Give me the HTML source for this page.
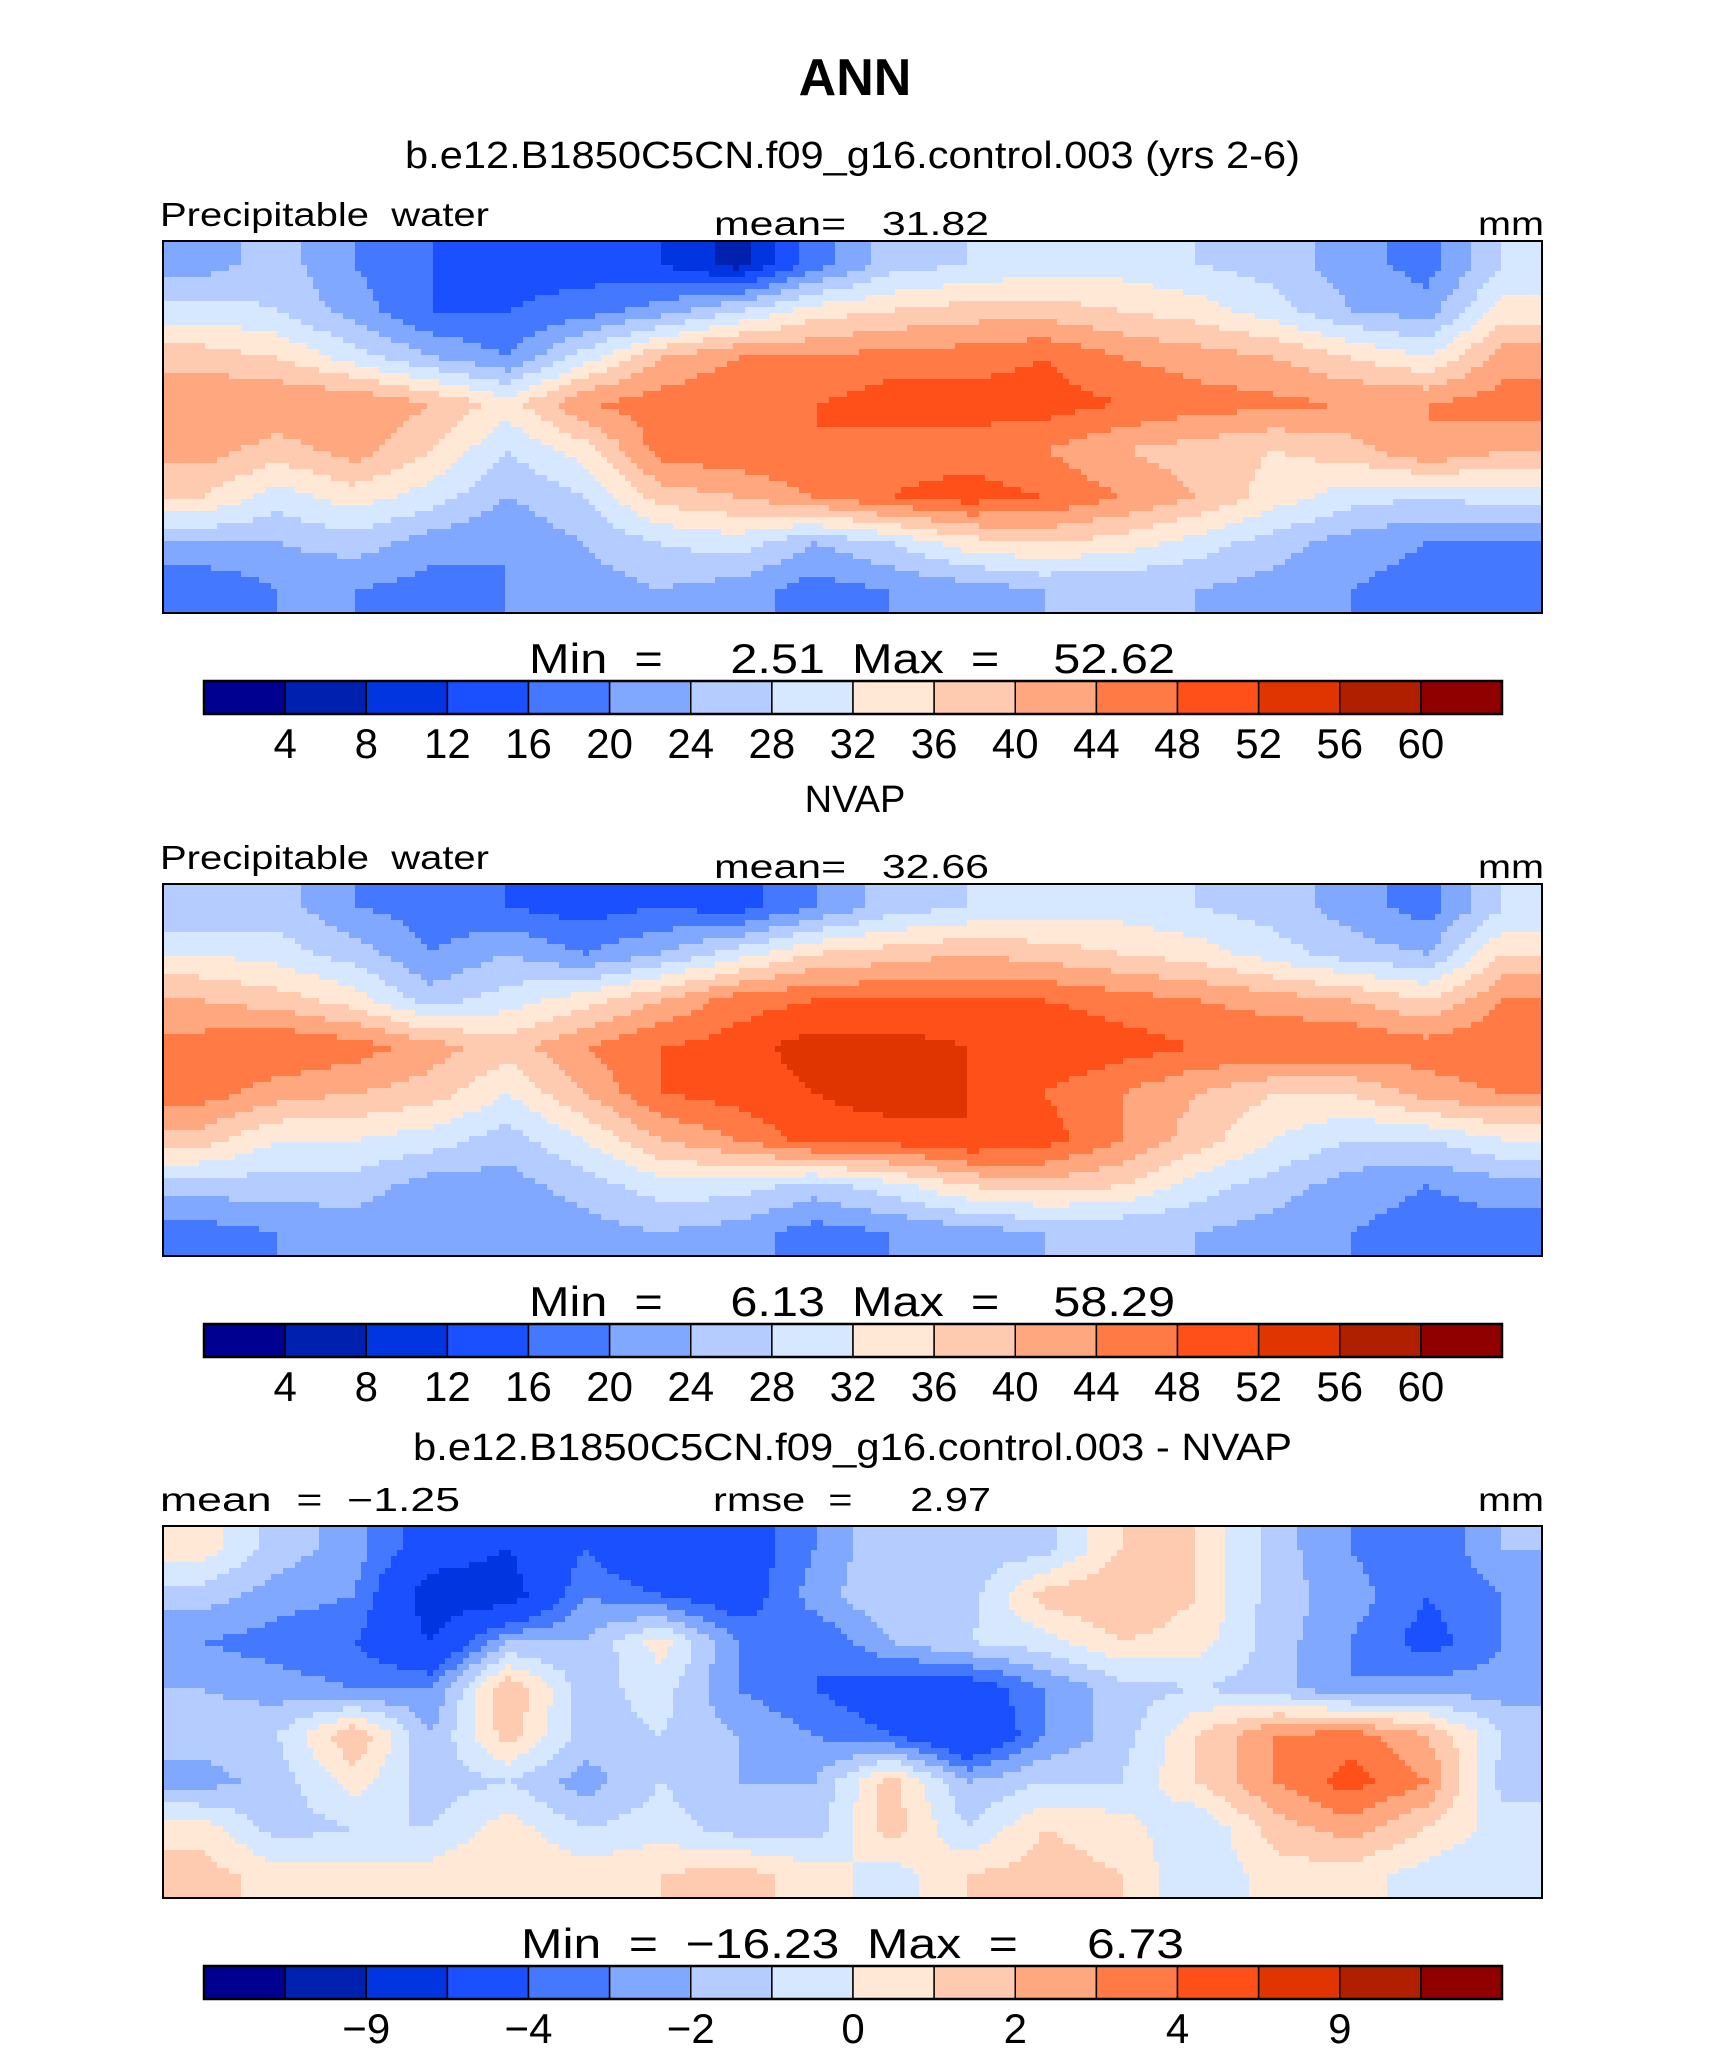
<!DOCTYPE html>
<html><head><meta charset="utf-8"><style>
html,body{margin:0;padding:0;background:#fff;}
svg{display:block;font-family:"Liberation Sans",sans-serif;}
text{white-space:pre;}
</style></head><body>
<svg id="fig" width="1710" height="2067" viewBox="0 0 1710 2067">
<text x="855" y="95" text-anchor="middle" font-size="52" font-weight="bold">ANN</text>
<text x="405" y="168" font-size="38" textLength="895" lengthAdjust="spacingAndGlyphs">b.e12.B1850C5CN.f09_g16.control.003 (yrs 2-6)</text>
<text x="855" y="812" text-anchor="middle" font-size="38">NVAP</text>
<text x="413" y="1460" font-size="38" textLength="879" lengthAdjust="spacingAndGlyphs">b.e12.B1850C5CN.f09_g16.control.003 - NVAP</text>
</svg>
<script>
const colors=["#000090","#0020b0","#0035e0","#1a50ff","#4478ff","#80a8ff","#b4ccff","#d6e8ff","#ffe8d6","#ffcbb0","#ffa880","#ff7a44","#ff501a","#e03500","#b02000","#900000"];
const bounds12=[4,8,12,16,20,24,28,32,36,40,44,48,52,56,60];
const bounds3=[-12,-9,-6,-4,-3,-2,-1,0,1,2,3,4,6,9,12];
const ticks12=["4","8","12","16","20","24","28","32","36","40","44","48","52","56","60"];
const ticks3=["","\u22129","","\u22124","","\u22122","","0","","2","","4","","9",""];
const model=[
[22,26,20,16,14,14,12,6,18,26,28,30,30,28,26,22,18,28],
[30,28,22,16,16,18,22,28,34,36,38,38,36,34,30,24,22,34],
[38,36,30,24,20,30,40,44,44,46,46,48,44,42,40,36,32,42],
[44,44,44,40,34,44,46,48,48,50,50,50,48,46,45,44,44,46],
[42,38,42,36,28,34,46,47,48,46,46,44,40,38,36,38,44,40],
[36,30,34,30,24,28,38,40,44,48,50,48,44,40,34,30,28,30],
[24,24,26,22,20,24,28,30,24,28,34,36,34,30,26,22,20,20],
[16,20,20,18,20,22,24,22,18,20,22,24,24,24,22,20,18,16]];
const nvap=[
[24,26,20,18,16,14,16,14,20,26,28,30,30,28,26,22,18,28],
[32,30,26,20,24,20,24,30,36,38,40,38,36,34,30,26,24,36],
[40,38,34,26,30,34,40,46,48,48,48,48,46,44,42,40,36,44],
[46,48,46,42,38,44,48,50,54,54,52,52,50,48,48,48,46,48],
[46,42,40,38,32,40,48,50,52,54,52,48,44,40,36,36,42,44],
[38,32,32,30,26,32,40,44,50,50,52,50,44,38,32,28,28,32],
[26,26,26,22,22,26,30,30,26,30,36,38,36,30,26,22,20,22],
[18,20,22,20,20,22,24,22,18,20,22,24,24,24,22,20,18,18]];
const diff=[
[0.5,-1.5,-2.5,-5,-6,-4,-6,-5,-3,-1,-1.5,-1.5,1,1,-1.5,-3,-4,-2],
[-1.5,-2.5,-3,-7,-7,-3,-4,-5,-2.5,-1,-1.5,1.5,2,1,-1.5,-2.5,-4,-3],
[-3,-3.5,-4,-6,-2,-2,0.5,-3,-4,-2,-1,-0.5,1,0.5,-1.5,-3,-4.5,-3],
[-2,-2.5,-3,-3,2,-1.5,-0.5,-3,-4,-5,-5,-3,-1.5,-1,-1.5,-3,-2.5,-2.5],
[-1.5,-1,2,-2,1.5,-1.5,-1,-2,-3,-4,-6,-3,-1.5,1,3,3.5,2,-1],
[-2.5,-1.5,0.5,-1.5,-1,-2.5,-1,-2,-2,1.5,-2,-1,-1,1,3,4.5,3,-1.5],
[0.5,-1.5,-1,-1,0.5,-1,-0.5,-1.5,-1.5,1.5,-1,1,0.5,-1,1.5,2.5,1,-0.5],
[1.5,0.5,0.5,0.5,1,0.5,1,1.5,0.5,-0.5,1,1.5,1,-1,0.5,0.5,-0.5,-1]];
const NS="http://www.w3.org/2000/svg";
const svg=document.getElementById('fig');
function mk(tag,attrs,parent){const e=document.createElementNS(NS,tag);for(const k in attrs)e.setAttribute(k,attrs[k]);(parent||svg).appendChild(e);return e;}
function lvl(v,b){let i=0;while(i<b.length&&v>=b[i])i++;return i;}
function sample(g,fx,fy){const R=g.length,C=g[0].length;let x=fx*C-0.5,y=fy*R-0.5;x=Math.max(0,Math.min(C-1,x));y=Math.max(0,Math.min(R-1,y));const x0=Math.floor(x),y0=Math.floor(y),x1=Math.min(C-1,x0+1),y1=Math.min(R-1,y0+1);const tx=x-x0,ty=y-y0;return (g[y0][x0]*(1-tx)+g[y0][x1]*tx)*(1-ty)+(g[y1][x0]*(1-tx)+g[y1][x1]*tx)*ty;}
const MX=163,MW=1379,MH=372;
function panel(off,grid,bounds,ticks,labels,minmax,idx){
  const g=mk('g',{});
  
  
  const top=241+off, st=6;
  const mapg=mk('g',{},g);
  
  
  for(let y=0;y<MH;y+=st){const h=Math.min(st,MH-y);let runStart=0,runL=-1;
    for(let x=0;;x+=st){const end=x>=MW;let L=-2;if(!end){L=lvl(sample(grid,(x+st/2)/MW,(y+h/2)/MH),bounds);}
      if(L!==runL){if(runL>=0){const r=mk('rect',{x:MX+runStart,y:top+y,width:Math.min(x,MW)-runStart+0.6,height:h+0.6,fill:colors[runL]},mapg);}runStart=x;runL=L;}
      if(end)break;}}
  const fr=mk('rect',{x:MX,y:top,width:MW,height:MH,fill:'none',stroke:'#000','stroke-width':2},g);
  
  labels.forEach(l=>{const t=mk('text',{x:l[0],y:l[1]+off,'font-size':33,textLength:l[3],lengthAdjust:'spacingAndGlyphs'},g);t.textContent=l[2];});
  const mm=mk('text',{x:minmax[0],y:673+off,'font-size':42,textLength:minmax[1],lengthAdjust:'spacingAndGlyphs'},g);mm.textContent=minmax[2];
  
  const cx=204,cw=1298/16,cy=681+off,ch=33;
  const cb=mk('g',{},g);
  colors.forEach((c,i)=>{const r=mk('rect',{x:cx+i*cw,y:cy,width:cw,height:ch,fill:c,stroke:'#000','stroke-width':1.5},cb);});
  mk('rect',{x:cx,y:cy,width:1298,height:ch,fill:'none',stroke:'#000','stroke-width':2.5},cb);
  ticks.forEach((tk,i)=>{if(!tk)return;const t=mk('text',{x:cx+(i+1)*cw,y:758+off,'font-size':42,'text-anchor':'middle'},cb);t.textContent=tk;});
}
panel(0,model,bounds12,ticks12,[[160,226,"Precipitable  water",329,"variable-label"],[714,235,"mean=   31.82",275,"mean-label"],[1478,235,"mm",66,"units-label"]],[529,646,"Min  =     2.51  Max  =    52.62"],1);
panel(643,nvap,bounds12,ticks12,[[160,226,"Precipitable  water",329,"variable-label"],[714,235,"mean=   32.66",275,"mean-label"],[1478,235,"mm",66,"units-label"]],[529,646,"Min  =     6.13  Max  =    58.29"],2);
panel(1285,diff,bounds3,ticks3,[[160,226,"mean  =  \u22121.25",300,"mean-label"],[713,226,"rmse  =     2.97",278,"rmse-label"],[1478,226,"mm",66,"units-label"]],[521,663,"Min  =  \u221216.23  Max  =     6.73"],3);
</script>
</body></html>
